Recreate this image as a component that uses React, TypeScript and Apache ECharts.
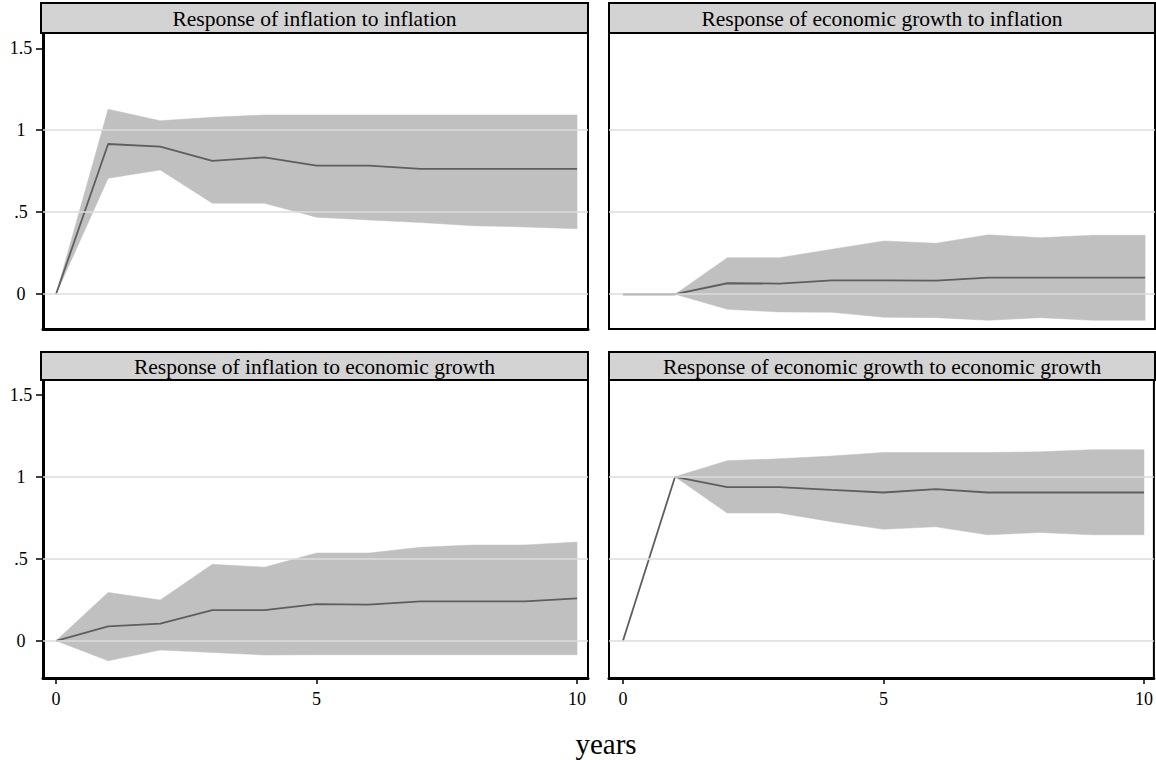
import React, { useEffect, useRef } from "react";
import * as echarts from "echarts";

const years = [0, 1, 2, 3, 4, 5, 6, 7, 8, 9, 10];
const yTicks = [0, 0.5, 1, 1.5];
const gridValues = [0, 0.5, 1];
const xTicks = [0, 5, 10];

const titles = [
  "Response of inflation to inflation",
  "Response of economic growth to inflation",
  "Response of inflation to economic growth",
  "Response of economic growth to economic growth",
];

const infInfIrf = [0, 0.916, 0.9, 0.813, 0.835, 0.784, 0.784, 0.764, 0.764, 0.764, 0.764];
const infInfLo = [0, 0.707, 0.758, 0.555, 0.555, 0.47, 0.453, 0.437, 0.418, 0.41, 0.4];
const infInfHi = [0, 1.128, 1.058, 1.079, 1.093, 1.093, 1.093, 1.093, 1.093, 1.093, 1.093];

const growthInfIrf = [0, 0, 0.067, 0.065, 0.085, 0.085, 0.083, 0.101, 0.101, 0.101, 0.101];
const growthInfLo = [null, 0, -0.092, -0.108, -0.11, -0.14, -0.143, -0.159, -0.143, -0.159, -0.159];
const growthInfHi = [null, 0, 0.223, 0.223, 0.274, 0.325, 0.311, 0.362, 0.345, 0.36, 0.36];

const infGrowthIrf = [0, 0.088, 0.104, 0.187, 0.187, 0.224, 0.22, 0.24, 0.24, 0.24, 0.258];
const infGrowthLo = [0, -0.122, -0.057, -0.071, -0.087, -0.085, -0.085, -0.085, -0.085, -0.085, -0.085];
const infGrowthHi = [0, 0.295, 0.248, 0.466, 0.449, 0.535, 0.535, 0.57, 0.584, 0.584, 0.602];

const growthGrowthIrf = [0, 1, 0.937, 0.937, 0.92, 0.904, 0.925, 0.904, 0.904, 0.904, 0.904];
const growthGrowthLo = [null, 1, 0.779, 0.779, 0.726, 0.68, 0.695, 0.646, 0.66, 0.646, 0.646];
const growthGrowthHi = [null, 1, 1.098, 1.11, 1.126, 1.148, 1.148, 1.148, 1.152, 1.165, 1.165];

const irfs = [infInfIrf, growthInfIrf, infGrowthIrf, growthGrowthIrf];
const los = [infInfLo, growthInfLo, infGrowthLo, growthGrowthLo];
const his = [infInfHi, growthInfHi, infGrowthHi, growthGrowthHi];

// layout (pixels)
const FONT = "'Liberation Serif', 'Times New Roman', serif";
const panelLeft = [43, 609, 43, 609];
const panelRight = [588, 1155, 588, 1155];
const panelTop = [33, 33, 380, 380];
const panelHeight = [296, 296, 298, 298];
const titleTop = [3, 3, 352, 352];
const xMin = [-0.25, -0.268, -0.25, -0.268];
const xMax = [10.21, 10.19, 10.21, 10.19];
const yMin = [-0.212, -0.212, -0.227, -0.227];
const yMax = [1.593, 1.593, 1.59, 1.59];

function fmtY(v: number) {
  if (v === 0) return "0";
  if (v === 0.5) return ".5";
  if (v === 1) return "1";
  if (v === 1.5) return "1.5";
  return String(v);
}

export default function App() {
  const ref = useRef<HTMLDivElement>(null);
  useEffect(() => {
    if (!ref.current) return;
    const chart = echarts.init(ref.current, undefined, { renderer: "svg" });
    const grids: any[] = [];
    const xAxes: any[] = [];
    const yAxes: any[] = [];
    const series: any[] = [];
    const graphics: any[] = [];

    for (let i = 0; i < 4; i++) {
      const isLeft = i % 2 === 0;
      const isBottom = i >= 2;
      grids.push({
        left: panelLeft[i],
        width: panelRight[i] - panelLeft[i],
        top: panelTop[i],
        height: panelHeight[i],
        show: true,
        borderColor: "#000",
        borderWidth: 2,
        backgroundColor: "#fff",
        containLabel: false,
      });
      xAxes.push({
        type: "value",
        gridIndex: i,
        min: xMin[i],
        max: xMax[i],
        axisLine: { show: true, onZero: false, lineStyle: { color: "#000", width: isLeft || isBottom ? 3 : 2 } },
        axisTick: isBottom
          ? { show: true, customValues: xTicks, length: 6, lineStyle: { color: "#000", width: 1.5 } }
          : { show: false },
        axisLabel: isBottom
          ? {
              show: true,
              customValues: xTicks,
              margin: 12,
              color: "#000",
              fontFamily: FONT,
              fontSize: 18,
              formatter: (v: number) => String(v),
            }
          : { show: false },
        splitLine: { show: false },
      });
      yAxes.push({
        type: "value",
        gridIndex: i,
        min: yMin[i],
        max: yMax[i],
        axisLine: { show: true, onZero: false, lineStyle: { color: "#000", width: isLeft ? 3 : 2 } },
        axisTick: isLeft
          ? { show: true, customValues: yTicks, length: 7, lineStyle: { color: "#000", width: 1.5 } }
          : { show: false },
        axisLabel: isLeft
          ? {
              show: true,
              customValues: yTicks,
              margin: 22,
              align: "center",
              color: "#000",
              fontFamily: FONT,
              fontSize: 18,
              formatter: (v: number) => fmtY(v),
            }
          : { show: false },
        splitLine: { show: false },
      });

      const lo = los[i];
      const hi = his[i];
      const bandData = years
        .map((x, k) => [x, lo[k], hi[k]])
        .filter((d) => d[1] != null && d[2] != null);

      // grid lines (drawn under the band)
      series.push({
        type: "line",
        xAxisIndex: i,
        yAxisIndex: i,
        data: years.map((x) => [x, null]),
        showSymbol: false,
        symbol: "none",
        lineStyle: { width: 0, opacity: 0 },
        z: 1,
        silent: true,
        markLine: {
          silent: true,
          symbol: ["none", "none"],
          label: { show: false },
          lineStyle: { color: "#dcdcdc", width: 1.5, type: "solid" },
          emphasis: { disabled: true },
          data: gridValues.map((v) => ({ yAxis: v })),
        },
      });
      // confidence band
      series.push({
        type: "custom",
        xAxisIndex: i,
        yAxisIndex: i,
        data: bandData,
        encode: { x: 0, y: [1, 2] },
        z: 2,
        silent: true,
        renderItem: (params: any, api: any) => {
          if (params.dataIndex !== 0) return null;
          const upper = bandData.map((d) => api.coord([d[0], d[2]]));
          const lower = bandData.map((d) => api.coord([d[0], d[1]])).reverse();
          return {
            type: "polygon",
            shape: { points: upper.concat(lower) },
            style: { fill: "#c0c0c0", stroke: "#c0c0c0", lineWidth: 0.5 },
          };
        },
      });
      series.push({
        type: "line",
        xAxisIndex: i,
        yAxisIndex: i,
        data: years.map((x, k) => [x, irfs[i][k]]),
        showSymbol: false,
        symbol: "none",
        lineStyle: { color: "#5e5e5e", width: 1.8 },
        z: 3,
        silent: true,
      });

      const tw = panelRight[i] - panelLeft[i] + (isLeft ? 2 : 0);
      const tx = isLeft ? panelLeft[i] - 2 : panelLeft[i];
      const th = panelTop[i] - titleTop[i];
      graphics.push({
        type: "rect",
        shape: { x: tx, y: titleTop[i], width: tw, height: th },
        style: { fill: "#d3d3d3", stroke: "#000", lineWidth: 2 },
        z: 10,
      });
      graphics.push({
        type: "text",
        x: tx + tw / 2,
        y: titleTop[i] + th / 2 + 1,
        style: {
          text: titles[i],
          fill: "#000",
          font: `21.5px ${FONT}`,
          align: "center",
          verticalAlign: "middle",
        },
        z: 11,
      });
    }

    graphics.push({
      type: "text",
      x: 606,
      y: 744,
      style: {
        text: "years",
        fill: "#000",
        font: `29px ${FONT}`,
        align: "center",
        verticalAlign: "middle",
      },
    });

    chart.setOption({
      animation: false,
      backgroundColor: "#fff",
      grid: grids,
      xAxis: xAxes,
      yAxis: yAxes,
      series,
      graphic: graphics,
    });
    return () => chart.dispose();
  }, []);
  return (
    <div
      ref={ref}
      style={{ position: "absolute", left: 0, top: 0, width: 1156, height: 760 }}
    />
  );
}
